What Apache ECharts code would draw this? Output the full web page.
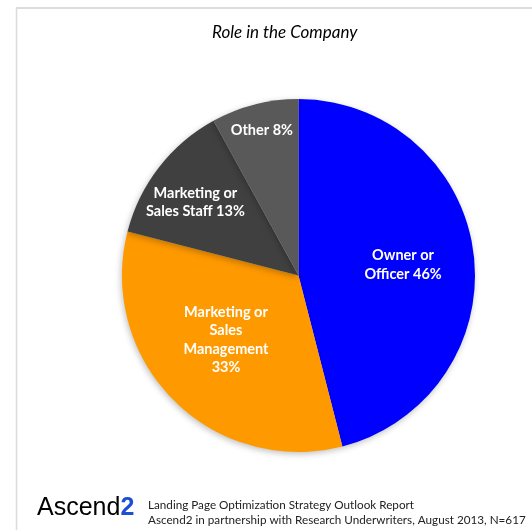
<!DOCTYPE html>
<html>
<head>
<meta charset="utf-8">
<script src="https://cdn.jsdelivr.net/npm/echarts@6/dist/echarts.min.js"></script>
<style>
  html, body { margin: 0; padding: 0; background: #fff; }
  #chart { width: 532px; height: 530px; }
</style>
</head>
<body>
<div id="chart"></div>
<script>
// data
const roles = ['Owner or Officer', 'Marketing or Sales Management', 'Marketing or Sales Staff', 'Other'];
const shares = [46, 33, 13, 8];
const labelText = ['Owner or\nOfficer 46%', 'Marketing or\nSales\nManagement\n33%', 'Marketing or\nSales Staff 13%', 'Other 8%'];
const sliceColors = ['#0000ff', '#ff9900', '#404040', '#595959'];
// nudges so the labels sit where the original put them
const labelNudge = [[14, 1], [-8, 0], [-31, -17], [-14, -57]];

const chart = echarts.init(document.getElementById('chart'));

const option = {
    backgroundColor: '#fff',
    animation: false,
    title: {
        text: 'Role in the Company',
        left: 207,
        top: 19,
        textStyle: {
            fontFamily: 'Lato',
            fontStyle: 'italic',
            fontWeight: 'normal',
            fontSize: 17,
            color: '#000'
        }
    },
    graphic: [
        { type: 'line', shape: { x1: 16, y1: 8, x2: 532, y2: 8 }, style: { stroke: '#dcdcdc', lineWidth: 2 } },
        { type: 'line', shape: { x1: 16.5, y1: 8, x2: 16.5, y2: 530 }, style: { stroke: '#dcdcdc', lineWidth: 1.5 } },
        {
            type: 'text', left: 37, top: 496,
            style: {
                text: '{a|Ascend}{b|2}',
                rich: {
                    a: { fontFamily: 'Liberation Sans', fontSize: 25, fill: '#000', textStrokeWidth: 0.6, textStroke: '#000' },
                    b: { fontFamily: 'Liberation Sans', fontSize: 25, fill: '#1d4fd6', fontWeight: 'bold' }
                }
            }
        },
        {
            type: 'text', left: 148, top: 498,
            style: {
                text: 'Landing Page Optimization Strategy Outlook Report\nAscend2 in partnership with Research Underwriters, August 2013, N=617',
                fontFamily: 'Lato', fontSize: 11.7, lineHeight: 14.5, fill: '#222'
            }
        }
    ],
    series: [{
        type: 'pie',
        center: [298.5, 275.5],
        radius: 176.5,
        startAngle: 90,
        clockwise: true,
        data: roles.map((r, i) => ({
            name: r,
            value: shares[i],
            itemStyle: { color: sliceColors[i] }
        })),
        itemStyle: {
            shadowBlur: 6,
            shadowColor: 'rgba(0,0,0,0.25)',
            shadowOffsetX: -1,
            shadowOffsetY: 2
        },
        label: {
            position: 'inside',
            formatter: p => labelText[p.dataIndex],
            color: '#fff',
            fontFamily: 'Lato',
            fontWeight: 'bold',
            fontSize: 14.5,
            lineHeight: 18.5,
            align: 'center'
        },
        labelLayout: p => ({ dx: labelNudge[p.dataIndex][0], dy: labelNudge[p.dataIndex][1] }),
        labelLine: { show: false },
        emphasis: { disabled: true }
    }]
};

chart.setOption(option);
</script>
</body>
</html>
